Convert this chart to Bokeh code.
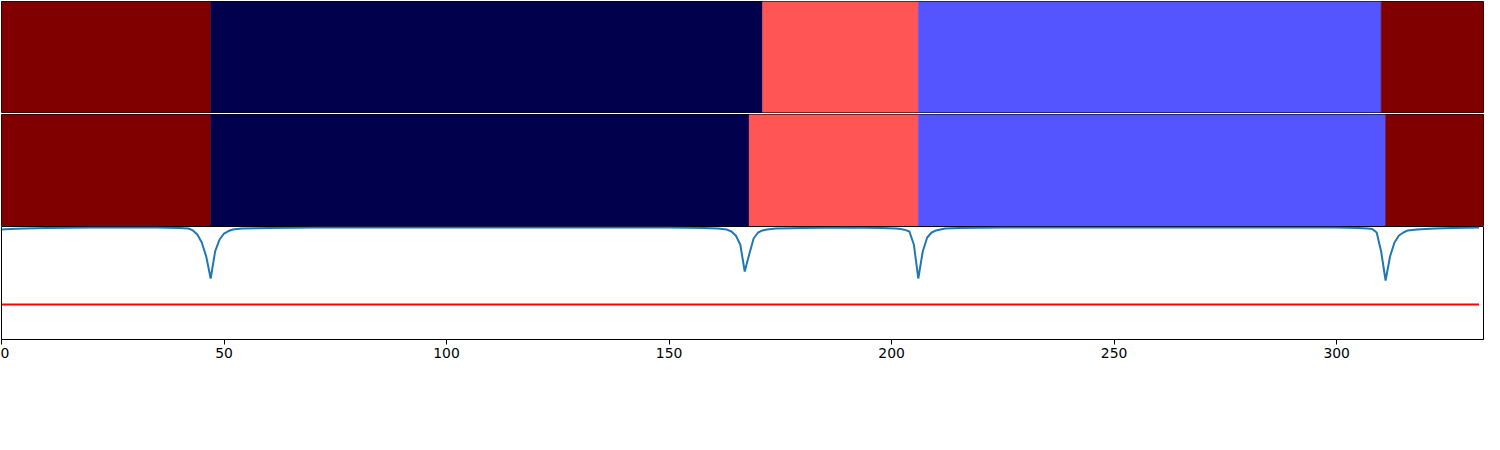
from bokeh.plotting import figure
from bokeh.layouts import column
from bokeh.models import Range1d, FixedTicker, ColumnDataSource, LinearColorMapper
from bokeh.embed import file_html
from bokeh.resources import INLINE

# ---- data ----
x_ticks = [0, 50, 100, 150, 200, 250, 300]

# segment labels (0 = dark blue, 1 = light blue, 2 = light red, 3 = dark red)
row1_edges = [0, 47, 171, 206, 310, 333]
row1_labels = [3, 0, 2, 1, 3]
row2_edges = [0, 47, 168, 206, 311, 333]
row2_labels = [3, 0, 2, 1, 3]

curve_x = [0, 2, 5, 10, 20, 35, 40, 42, 43, 44, 45, 46, 47, 48, 49, 50, 51, 52, 54, 60, 70,
           150, 158, 161, 163, 164, 165, 166, 167, 168, 169, 170, 171, 172, 174, 180, 190,
           198, 201, 202, 203, 204, 205, 206, 207, 208, 209, 210, 212, 215, 225,
           300, 305, 307, 308, 309, 310, 311, 312, 313, 314, 315, 316, 318, 322, 326, 332]
curve_y = [0.973, 0.978, 0.982, 0.987, 0.991, 0.991, 0.987, 0.982, 0.965, 0.929, 0.858, 0.735, 0.540, 0.779, 0.885, 0.938, 0.960, 0.973, 0.982, 0.987, 0.991,
           0.991, 0.987, 0.982, 0.973, 0.956, 0.920, 0.841, 0.602, 0.752, 0.894, 0.947, 0.965, 0.973, 0.982, 0.987, 0.991,
           0.987, 0.982, 0.978, 0.970, 0.956, 0.841, 0.540, 0.779, 0.903, 0.947, 0.965, 0.982, 0.987, 0.991,
           0.991, 0.987, 0.982, 0.978, 0.947, 0.779, 0.522, 0.735, 0.858, 0.920, 0.947, 0.965, 0.973, 0.982, 0.987, 0.991]
threshold = 0.31

palette = ["#00004c", "#5555ff", "#ff5555", "#800000"]

# ---- plotting ----
W = 1484
x_range = Range1d(0, 333)
mapper = LinearColorMapper(palette=palette, low=-0.5, high=3.5)


def band_fig(height, mbt, mbb, edges, labels):
    p = figure(width=W, height=height, x_range=x_range, y_range=Range1d(0, 1),
               output_backend="svg", toolbar_location=None,
               x_axis_location=None, y_axis_location=None,
               min_border_left=1, min_border_right=1,
               min_border_top=mbt, min_border_bottom=mbb)
    p.grid.visible = False
    p.outline_line_color = "black"
    p.outline_line_width = 1
    p.background_fill_color = "white"
    p.border_fill_color = "white"
    src = ColumnDataSource(dict(left=edges[:-1], right=edges[1:],
                                bottom=[0] * len(labels), top=[1] * len(labels),
                                label=labels))
    p.quad(left="left", right="right", bottom="bottom", top="top", source=src,
           fill_color={"field": "label", "transform": mapper},
           line_color={"field": "label", "transform": mapper}, line_width=0.5)
    return p


p1 = band_fig(114, 1, 2, row1_edges, row1_labels)
p2 = band_fig(112, 0, 0, row2_edges, row2_labels)

p3 = figure(width=W, height=208, x_range=x_range, y_range=Range1d(0, 1),
            output_backend="svg", toolbar_location=None, y_axis_location=None,
            min_border_left=1, min_border_right=1, min_border_top=0, min_border_bottom=95)
p3.grid.visible = False
p3.outline_line_color = "black"
p3.outline_line_width = 1
p3.line(curve_x, curve_y, line_color="#1f77b4", line_width=2)
p3.line([curve_x[0], curve_x[-1]], [threshold, threshold], line_color="#ff0000", line_width=2)

ax = p3.xaxis[0]
ax.ticker = FixedTicker(ticks=x_ticks)
ax.axis_line_color = "black"
ax.axis_line_width = 1
ax.major_tick_line_color = "black"
ax.major_tick_out = 5
ax.major_tick_in = 0
ax.minor_tick_out = 0
ax.minor_tick_in = 0
ax.major_label_text_font = "DejaVu Sans"
ax.major_label_text_font_size = "13.9px"
ax.major_label_text_color = "black"
ax.major_label_standoff = 3

layout = column(p1, p2, p3, spacing=0)

open("out.html", "w").write(file_html(layout, INLINE))
